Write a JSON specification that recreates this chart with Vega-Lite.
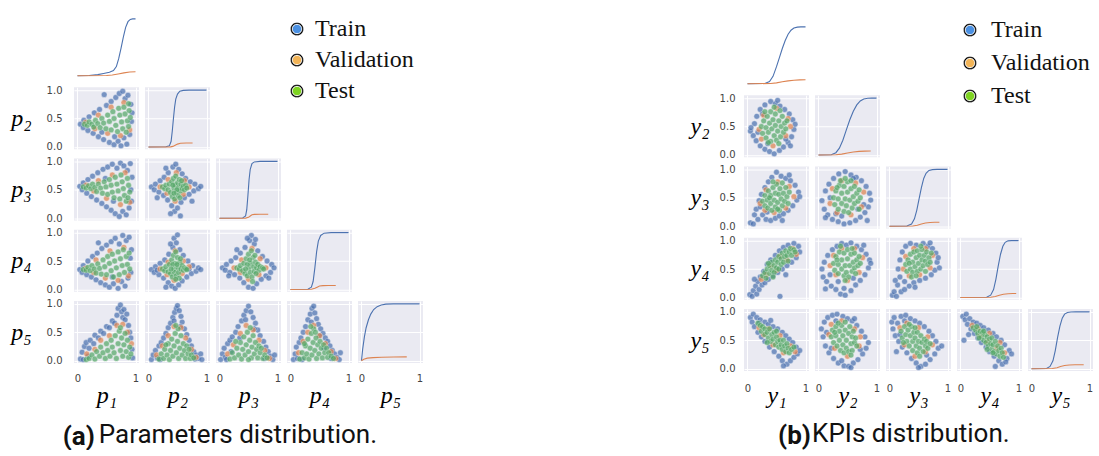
{
"$schema":"https://vega.github.io/schema/vega-lite/v6.json",
"background":"#ffffff",
"padding":{"left":10,"top":13,"right":0,"bottom":0},
"config":{
 "view":{"continuousWidth":65,"continuousHeight":62,"fill":"#eaeaf2","stroke":null},
 "point":{"filled":true,"size":34,"opacity":0.72,"stroke":"#ffffff","strokeWidth":0.4},
 "line":{"strokeWidth":1.1},
 "range":{"category":["#55a868","#4c72b0","#dd8452"]},
 "axis":{"grid":true,"gridColor":"#ffffff","gridWidth":1,"domain":false,"ticks":false,"labelFont":"DejaVu Sans","labelFontSize":10,"labelColor":"#444444","labelPadding":12,"titleFont":"Liberation Serif","titleFontStyle":"italic","titleFontWeight":"normal","titleFontSize":24,"titleColor":"#000000"},
 "axisX":{"tickCount":1,"titlePadding":1},
 "axisY":{"tickCount":3,"titleAngle":0,"titleAlign":"right","titleBaseline":"middle","titlePadding":15}
},
"datasets":{
"P":[
{"p":"A21","s":"Train","x":[0.05,0.1,0.11,0.18,0.2,0.27,0.29,0.36,0.38,0.45,0.46,0.5,0.55,0.58,0.63,0.66,0.7,0.72,0.75,0.78,0.8,0.82,0.85,0.87,0.9,0.92,0.93,0.94,0.42,0.64],"y":[0.4,0.34,0.47,0.29,0.53,0.24,0.6,0.18,0.66,0.13,0.92,0.73,0.08,0.8,0.04,0.87,0.1,0.94,0.02,0.98,0.16,0.85,0.05,0.91,0.22,0.75,0.45,0.6,0.26,0.18]},
{"p":"A21","s":"Validation","x":[0.14,0.3,0.36,0.52,0.58,0.74,0.8,0.9],"y":[0.43,0.32,0.56,0.24,0.7,0.2,0.78,0.3]},
{"p":"A21","s":"Test","x":[0.12,0.17,0.2,0.25,0.28,0.31,0.35,0.39,0.42,0.45,0.49,0.52,0.55,0.58,0.61,0.63,0.66,0.69,0.71,0.73,0.76,0.78,0.8,0.82,0.84,0.86,0.88,0.89,0.91,0.88],"y":[0.4,0.38,0.44,0.4,0.35,0.47,0.41,0.34,0.5,0.42,0.32,0.56,0.45,0.3,0.62,0.5,0.38,0.27,0.68,0.56,0.44,0.32,0.7,0.58,0.26,0.46,0.36,0.64,0.52,0.76]},
{"p":"A31","s":"Train","x":[0.04,0.08,0.1,0.16,0.18,0.24,0.26,0.33,0.35,0.42,0.44,0.5,0.52,0.58,0.6,0.65,0.68,0.72,0.74,0.78,0.8,0.84,0.86,0.89,0.91,0.93,0.94,0.92,0.48,0.62],"y":[0.56,0.5,0.62,0.44,0.68,0.38,0.74,0.32,0.8,0.26,0.86,0.2,0.9,0.14,0.95,0.08,0.88,0.03,0.97,0.12,0.92,0.06,0.84,0.18,0.96,0.3,0.72,0.5,0.7,0.3]},
{"p":"A31","s":"Validation","x":[0.15,0.28,0.36,0.5,0.6,0.74,0.82,0.9],"y":[0.58,0.48,0.66,0.35,0.76,0.24,0.8,0.28]},
{"p":"A31","s":"Test","x":[0.1,0.15,0.19,0.23,0.26,0.3,0.33,0.36,0.4,0.43,0.46,0.49,0.52,0.55,0.58,0.6,0.63,0.65,0.68,0.7,0.73,0.75,0.77,0.79,0.81,0.84,0.86,0.88,0.9,0.87],"y":[0.55,0.53,0.57,0.52,0.6,0.54,0.47,0.6,0.53,0.44,0.64,0.55,0.42,0.68,0.58,0.46,0.36,0.72,0.6,0.48,0.34,0.76,0.64,0.52,0.4,0.3,0.7,0.58,0.46,0.36]},
{"p":"A32","s":"Train","x":[0.05,0.1,0.12,0.18,0.2,0.26,0.27,0.33,0.34,0.4,0.42,0.45,0.47,0.5,0.52,0.56,0.58,0.62,0.64,0.7,0.72,0.78,0.8,0.86,0.9,0.38,0.55,0.3,0.15,0.75],"y":[0.55,0.5,0.6,0.46,0.66,0.4,0.72,0.32,0.8,0.22,0.9,0.12,0.95,0.18,0.86,0.28,0.78,0.36,0.7,0.42,0.64,0.48,0.6,0.52,0.56,0.08,0.04,0.88,0.36,0.3]},
{"p":"A32","s":"Validation","x":[0.2,0.32,0.34,0.46,0.48,0.6,0.62,0.7],"y":[0.55,0.44,0.68,0.3,0.8,0.42,0.66,0.55]},
{"p":"A32","s":"Test","x":[0.24,0.28,0.3,0.34,0.36,0.38,0.4,0.41,0.43,0.44,0.45,0.46,0.47,0.48,0.5,0.51,0.52,0.53,0.55,0.56,0.58,0.6,0.62,0.64,0.66,0.42,0.49,0.54,0.44,0.57],"y":[0.55,0.52,0.58,0.5,0.6,0.45,0.64,0.38,0.7,0.52,0.34,0.58,0.74,0.46,0.62,0.4,0.54,0.68,0.48,0.6,0.52,0.56,0.5,0.58,0.53,0.58,0.5,0.36,0.44,0.66]},
{"p":"A41","s":"Train","x":[0.04,0.08,0.1,0.16,0.18,0.24,0.26,0.32,0.34,0.4,0.42,0.48,0.5,0.55,0.58,0.62,0.65,0.7,0.72,0.76,0.78,0.82,0.84,0.87,0.89,0.92,0.93,0.91,0.36,0.6],"y":[0.35,0.3,0.42,0.26,0.5,0.22,0.58,0.17,0.64,0.12,0.72,0.08,0.78,0.04,0.84,0.1,0.9,0.02,0.8,0.14,0.95,0.06,0.86,0.2,0.92,0.3,0.7,0.55,0.82,0.22]},
{"p":"A41","s":"Validation","x":[0.14,0.28,0.32,0.48,0.56,0.7,0.8,0.88],"y":[0.37,0.3,0.52,0.2,0.68,0.16,0.74,0.24]},
{"p":"A41","s":"Test","x":[0.1,0.15,0.18,0.22,0.25,0.29,0.32,0.35,0.38,0.41,0.44,0.47,0.5,0.52,0.55,0.58,0.6,0.62,0.64,0.67,0.7,0.72,0.74,0.77,0.79,0.81,0.84,0.86,0.89,0.9],"y":[0.35,0.34,0.39,0.33,0.42,0.36,0.29,0.45,0.37,0.27,0.52,0.4,0.26,0.58,0.46,0.33,0.62,0.22,0.5,0.38,0.66,0.26,0.54,0.42,0.7,0.3,0.58,0.44,0.64,0.36]},
{"p":"A42","s":"Train","x":[0.05,0.1,0.12,0.18,0.2,0.26,0.28,0.34,0.35,0.4,0.42,0.44,0.46,0.48,0.52,0.54,0.58,0.6,0.66,0.68,0.74,0.76,0.82,0.86,0.9,0.38,0.5,0.3,0.15,0.7],"y":[0.35,0.3,0.4,0.26,0.46,0.2,0.52,0.12,0.62,0.06,0.74,0.9,0.02,0.82,0.08,0.7,0.15,0.6,0.22,0.5,0.28,0.42,0.32,0.38,0.35,0.8,0.96,0.04,0.34,0.36]},
{"p":"A42","s":"Validation","x":[0.2,0.32,0.34,0.44,0.46,0.58,0.6,0.7],"y":[0.36,0.26,0.48,0.16,0.68,0.28,0.5,0.4]},
{"p":"A42","s":"Test","x":[0.24,0.28,0.3,0.34,0.36,0.38,0.4,0.41,0.43,0.44,0.45,0.46,0.47,0.48,0.5,0.51,0.52,0.54,0.56,0.58,0.6,0.62,0.64,0.42,0.49,0.53,0.39,0.55,0.47,0.66],"y":[0.36,0.33,0.4,0.31,0.44,0.28,0.52,0.22,0.6,0.36,0.3,0.46,0.66,0.24,0.56,0.38,0.3,0.48,0.36,0.42,0.34,0.38,0.36,0.44,0.44,0.2,0.36,0.54,0.18,0.35]},
{"p":"A43","s":"Train","x":[0.05,0.1,0.12,0.18,0.2,0.26,0.28,0.35,0.36,0.42,0.44,0.5,0.52,0.55,0.58,0.6,0.64,0.66,0.72,0.74,0.8,0.82,0.88,0.9,0.94,0.48,0.62,0.3,0.16,0.85],"y":[0.38,0.34,0.44,0.3,0.5,0.26,0.56,0.2,0.64,0.12,0.74,0.04,0.86,0.95,0.02,0.8,0.1,0.68,0.18,0.58,0.24,0.5,0.3,0.44,0.38,0.9,0.88,0.7,0.24,0.2]},
{"p":"A43","s":"Validation","x":[0.25,0.36,0.38,0.5,0.56,0.68,0.7,0.8],"y":[0.38,0.3,0.52,0.18,0.72,0.26,0.54,0.38]},
{"p":"A43","s":"Test","x":[0.3,0.34,0.36,0.4,0.42,0.44,0.46,0.48,0.5,0.51,0.53,0.54,0.55,0.56,0.58,0.59,0.6,0.62,0.64,0.66,0.68,0.7,0.74,0.48,0.57,0.52,0.63,0.45,0.61,0.76],"y":[0.38,0.36,0.42,0.33,0.46,0.28,0.54,0.24,0.62,0.38,0.3,0.46,0.68,0.22,0.56,0.4,0.32,0.48,0.38,0.44,0.34,0.4,0.38,0.44,0.14,0.52,0.28,0.36,0.6,0.36]},
{"p":"A51","s":"Train","x":[0.05,0.08,0.12,0.15,0.2,0.22,0.28,0.3,0.36,0.4,0.45,0.5,0.55,0.6,0.64,0.68,0.7,0.74,0.76,0.78,0.8,0.82,0.85,0.88,0.9,0.92,0.94,0.95,0.1,0.18],"y":[0.03,0.15,0.25,0.32,0.22,0.36,0.3,0.45,0.4,0.52,0.48,0.6,0.58,0.7,0.66,0.8,0.92,0.98,0.86,0.76,0.9,0.72,0.82,0.62,0.5,0.4,0.2,0.05,0.02,0.08]},
{"p":"A51","s":"Validation","x":[0.16,0.3,0.4,0.55,0.68,0.78,0.86,0.93],"y":[0.12,0.2,0.36,0.44,0.62,0.64,0.5,0.3]},
{"p":"A51","s":"Test","x":[0.15,0.2,0.25,0.3,0.33,0.38,0.4,0.44,0.48,0.5,0.52,0.56,0.58,0.6,0.63,0.65,0.67,0.7,0.72,0.74,0.76,0.78,0.8,0.82,0.84,0.86,0.88,0.9,0.92,0.74],"y":[0.02,0.04,0.1,0.03,0.16,0.08,0.24,0.14,0.04,0.3,0.18,0.08,0.36,0.24,0.14,0.44,0.04,0.3,0.52,0.18,0.4,0.08,0.28,0.48,0.16,0.36,0.06,0.24,0.12,0.58]},
{"p":"A52","s":"Train","x":[0.05,0.08,0.12,0.15,0.18,0.22,0.26,0.3,0.34,0.38,0.42,0.45,0.48,0.5,0.53,0.56,0.58,0.62,0.66,0.7,0.74,0.78,0.82,0.86,0.9,0.92,0.44,0.55,0.2,0.8],"y":[0.02,0.1,0.18,0.05,0.26,0.32,0.4,0.48,0.58,0.66,0.76,0.85,0.92,0.97,0.88,0.78,0.68,0.56,0.46,0.36,0.26,0.16,0.1,0.04,0.12,0.02,0.7,0.6,0.02,0.03]},
{"p":"A52","s":"Validation","x":[0.14,0.24,0.34,0.44,0.56,0.64,0.74,0.82],"y":[0.1,0.26,0.44,0.6,0.58,0.4,0.2,0.06]},
{"p":"A52","s":"Test","x":[0.18,0.22,0.26,0.28,0.32,0.34,0.36,0.38,0.4,0.42,0.44,0.46,0.48,0.5,0.51,0.52,0.54,0.56,0.58,0.6,0.62,0.64,0.66,0.68,0.7,0.72,0.74,0.47,0.3,0.78],"y":[0.03,0.12,0.04,0.2,0.1,0.3,0.02,0.18,0.38,0.08,0.26,0.48,0.14,0.34,0.56,0.04,0.22,0.44,0.1,0.3,0.18,0.04,0.26,0.12,0.2,0.04,0.1,0.62,0.28,0.05]},
{"p":"A53","s":"Train","x":[0.02,0.05,0.08,0.1,0.14,0.18,0.22,0.28,0.32,0.38,0.42,0.46,0.5,0.54,0.58,0.62,0.66,0.7,0.76,0.8,0.84,0.88,0.92,0.95,0.12,0.45,0.6,0.2,0.78,0.35],"y":[0.02,0.12,0.22,0.06,0.3,0.36,0.42,0.5,0.6,0.7,0.8,0.88,0.96,0.86,0.76,0.66,0.54,0.44,0.34,0.24,0.16,0.08,0.02,0.1,0.02,0.72,0.56,0.16,0.04,0.4]},
{"p":"A53","s":"Validation","x":[0.14,0.24,0.36,0.46,0.58,0.68,0.78,0.86],"y":[0.12,0.28,0.48,0.62,0.54,0.36,0.18,0.04]},
{"p":"A53","s":"Test","x":[0.18,0.22,0.26,0.3,0.33,0.36,0.38,0.4,0.42,0.44,0.46,0.48,0.5,0.52,0.53,0.55,0.56,0.58,0.6,0.62,0.64,0.66,0.68,0.7,0.72,0.75,0.78,0.28,0.5,0.82],"y":[0.03,0.14,0.05,0.22,0.1,0.32,0.03,0.2,0.42,0.1,0.28,0.5,0.16,0.36,0.58,0.05,0.24,0.44,0.12,0.32,0.2,0.05,0.26,0.14,0.22,0.04,0.1,0.34,0.02,0.05]},
{"p":"A54","s":"Train","x":[0.05,0.08,0.1,0.12,0.15,0.18,0.22,0.26,0.3,0.34,0.37,0.4,0.42,0.45,0.48,0.52,0.56,0.6,0.64,0.68,0.72,0.76,0.8,0.84,0.86,0.2,0.36,0.5,0.7,0.58],"y":[0.02,0.12,0.24,0.04,0.32,0.4,0.5,0.6,0.72,0.82,0.92,0.96,0.84,0.74,0.64,0.56,0.48,0.4,0.34,0.26,0.18,0.12,0.06,0.02,0.14,0.02,0.68,0.44,0.04,0.22]},
{"p":"A54","s":"Validation","x":[0.14,0.22,0.3,0.4,0.5,0.6,0.7,0.78],"y":[0.14,0.34,0.5,0.62,0.44,0.3,0.16,0.04]},
{"p":"A54","s":"Test","x":[0.16,0.2,0.24,0.26,0.28,0.3,0.32,0.34,0.36,0.37,0.39,0.4,0.42,0.44,0.45,0.47,0.49,0.51,0.53,0.55,0.57,0.59,0.62,0.64,0.66,0.7,0.35,0.43,0.24,0.74],"y":[0.03,0.14,0.05,0.26,0.12,0.38,0.03,0.22,0.48,0.1,0.32,0.56,0.18,0.4,0.04,0.28,0.12,0.34,0.22,0.05,0.28,0.14,0.22,0.06,0.14,0.08,0.6,0.5,0.3,0.04]},
{"p":"B21","s":"Train","x":[0.05,0.1,0.12,0.15,0.16,0.22,0.22,0.3,0.3,0.38,0.4,0.46,0.48,0.55,0.56,0.62,0.64,0.7,0.72,0.76,0.78,0.8,0.82,0.06,0.18,0.26,0.66,0.52,0.35,0.74],"y":[0.42,0.34,0.55,0.25,0.68,0.16,0.8,0.1,0.88,0.06,0.94,0.02,0.9,0.08,0.86,0.14,0.8,0.22,0.72,0.32,0.62,0.45,0.54,0.48,0.4,0.72,0.28,0.96,0.2,0.16]},
{"p":"B21","s":"Validation","x":[0.2,0.24,0.28,0.44,0.5,0.66,0.7,0.74],"y":[0.45,0.28,0.7,0.16,0.82,0.34,0.64,0.5]},
{"p":"B21","s":"Test","x":[0.24,0.26,0.28,0.32,0.32,0.34,0.36,0.38,0.4,0.4,0.42,0.44,0.46,0.48,0.48,0.5,0.52,0.54,0.56,0.57,0.58,0.6,0.62,0.64,0.66,0.68,0.46,0.36,0.3,0.54],"y":[0.5,0.38,0.6,0.3,0.48,0.68,0.4,0.56,0.24,0.76,0.46,0.62,0.34,0.52,0.72,0.26,0.42,0.6,0.78,0.32,0.5,0.68,0.4,0.56,0.46,0.6,0.84,0.22,0.76,0.2]},
{"p":"B31","s":"Train","x":[0.05,0.1,0.12,0.15,0.18,0.2,0.24,0.26,0.3,0.32,0.36,0.4,0.42,0.48,0.5,0.55,0.58,0.62,0.66,0.7,0.74,0.78,0.82,0.85,0.88,0.9,0.22,0.6,0.72,0.34],"y":[0.06,0.04,0.2,0.3,0.12,0.45,0.56,0.2,0.68,0.12,0.78,0.1,0.86,0.14,0.95,0.18,0.88,0.22,0.84,0.28,0.8,0.36,0.72,0.46,0.6,0.52,0.34,0.1,0.9,0.25]},
{"p":"B31","s":"Validation","x":[0.22,0.3,0.32,0.46,0.52,0.66,0.72,0.8],"y":[0.4,0.28,0.64,0.24,0.78,0.32,0.7,0.52]},
{"p":"B31","s":"Test","x":[0.26,0.3,0.3,0.34,0.35,0.36,0.4,0.4,0.42,0.44,0.46,0.48,0.48,0.5,0.52,0.54,0.55,0.56,0.58,0.6,0.6,0.62,0.64,0.66,0.68,0.7,0.72,0.38,0.52,0.44],"y":[0.44,0.36,0.54,0.46,0.32,0.62,0.4,0.54,0.28,0.68,0.46,0.34,0.58,0.74,0.42,0.56,0.28,0.66,0.48,0.36,0.76,0.58,0.44,0.68,0.52,0.4,0.6,0.5,0.3,0.78]},
{"p":"B32","s":"Train","x":[0.06,0.1,0.12,0.16,0.18,0.24,0.26,0.34,0.35,0.44,0.46,0.54,0.56,0.64,0.65,0.72,0.74,0.8,0.82,0.86,0.88,0.9,0.12,0.78,0.3,0.68,0.2,0.84,0.4,0.6],"y":[0.45,0.3,0.62,0.2,0.74,0.12,0.84,0.08,0.92,0.04,0.96,0.06,0.9,0.1,0.86,0.16,0.8,0.24,0.7,0.34,0.58,0.46,0.15,0.38,0.22,0.3,0.5,0.1,0.18,0.84]},
{"p":"B32","s":"Validation","x":[0.2,0.24,0.32,0.4,0.56,0.64,0.74,0.78],"y":[0.4,0.66,0.24,0.8,0.2,0.76,0.34,0.6]},
{"p":"B32","s":"Test","x":[0.26,0.28,0.3,0.34,0.34,0.36,0.4,0.4,0.44,0.44,0.46,0.48,0.5,0.5,0.52,0.54,0.56,0.58,0.6,0.62,0.62,0.66,0.68,0.7,0.7,0.72,0.38,0.46,0.56,0.32],"y":[0.5,0.38,0.62,0.3,0.48,0.72,0.4,0.58,0.26,0.7,0.48,0.36,0.6,0.78,0.24,0.46,0.66,0.32,0.52,0.4,0.7,0.58,0.44,0.3,0.64,0.5,0.8,0.84,0.8,0.68]},
{"p":"B41","s":"Train","x":[0.04,0.08,0.1,0.14,0.16,0.18,0.2,0.22,0.25,0.28,0.3,0.34,0.36,0.4,0.44,0.48,0.52,0.55,0.6,0.62,0.68,0.7,0.76,0.8,0.84,0.88,0.9,0.56,0.12,0.66],"y":[0.05,0.02,0.12,0.2,0.06,0.28,0.14,0.36,0.22,0.46,0.26,0.58,0.32,0.66,0.38,0.74,0.44,0.82,0.5,0.88,0.56,0.92,0.62,0.95,0.7,0.9,0.8,0.02,0.32,0.4]},
{"p":"B41","s":"Validation","x":[0.24,0.32,0.4,0.5,0.56,0.68,0.78,0.84],"y":[0.32,0.4,0.56,0.48,0.72,0.66,0.86,0.76]},
{"p":"B41","s":"Test","x":[0.26,0.3,0.32,0.34,0.38,0.38,0.42,0.42,0.46,0.46,0.48,0.5,0.52,0.54,0.54,0.58,0.58,0.6,0.62,0.64,0.66,0.68,0.7,0.72,0.74,0.76,0.8,0.82,0.44,0.36],"y":[0.38,0.44,0.34,0.5,0.42,0.56,0.48,0.62,0.44,0.56,0.66,0.52,0.62,0.5,0.72,0.58,0.68,0.78,0.62,0.72,0.82,0.74,0.64,0.8,0.86,0.74,0.84,0.8,0.36,0.6]},
{"p":"B42","s":"Train","x":[0.06,0.08,0.1,0.14,0.16,0.22,0.24,0.3,0.32,0.38,0.4,0.46,0.48,0.56,0.56,0.64,0.66,0.72,0.74,0.8,0.82,0.86,0.88,0.9,0.2,0.34,0.6,0.78,0.44,0.12],"y":[0.5,0.36,0.62,0.28,0.74,0.2,0.84,0.14,0.9,0.06,0.95,0.04,0.92,0.12,0.96,0.22,0.9,0.3,0.84,0.4,0.76,0.52,0.66,0.6,0.4,0.28,0.34,0.92,0.16,0.15]},
{"p":"B42","s":"Validation","x":[0.2,0.26,0.3,0.4,0.5,0.62,0.7,0.76],"y":[0.56,0.74,0.4,0.86,0.3,0.86,0.44,0.7]},
{"p":"B42","s":"Test","x":[0.26,0.28,0.3,0.34,0.34,0.36,0.4,0.4,0.44,0.44,0.46,0.48,0.5,0.5,0.52,0.54,0.56,0.58,0.6,0.62,0.62,0.66,0.68,0.7,0.72,0.58,0.38,0.46,0.64,0.32],"y":[0.6,0.48,0.72,0.42,0.58,0.8,0.5,0.66,0.38,0.78,0.56,0.44,0.68,0.84,0.36,0.56,0.76,0.46,0.62,0.52,0.78,0.66,0.56,0.72,0.6,0.86,0.9,0.3,0.42,0.66]},
{"p":"B43","s":"Train","x":[0.05,0.08,0.12,0.14,0.15,0.18,0.18,0.2,0.22,0.26,0.28,0.34,0.36,0.42,0.46,0.52,0.58,0.62,0.66,0.72,0.74,0.78,0.8,0.82,0.86,0.84,0.1,0.26,0.44,0.7],"y":[0.04,0.1,0.02,0.22,0.5,0.36,0.66,0.1,0.8,0.28,0.9,0.2,0.95,0.26,0.92,0.3,0.95,0.34,0.9,0.4,0.86,0.48,0.78,0.62,0.52,0.7,0.3,0.14,0.18,0.96]},
{"p":"B43","s":"Validation","x":[0.24,0.28,0.34,0.42,0.52,0.62,0.7,0.74],"y":[0.5,0.72,0.38,0.86,0.4,0.86,0.52,0.74]},
{"p":"B43","s":"Test","x":[0.28,0.3,0.32,0.36,0.36,0.4,0.4,0.42,0.44,0.46,0.48,0.48,0.5,0.52,0.54,0.56,0.56,0.58,0.6,0.62,0.62,0.64,0.66,0.68,0.7,0.38,0.46,0.54,0.72,0.34],"y":[0.58,0.46,0.66,0.5,0.76,0.44,0.62,0.8,0.54,0.7,0.46,0.82,0.6,0.74,0.5,0.66,0.84,0.56,0.74,0.46,0.64,0.8,0.58,0.7,0.62,0.36,0.38,0.9,0.78,0.6]},
{"p":"B51","s":"Train","x":[0.05,0.08,0.1,0.12,0.16,0.18,0.22,0.24,0.3,0.3,0.36,0.38,0.44,0.46,0.52,0.54,0.6,0.6,0.66,0.68,0.72,0.74,0.78,0.8,0.84,0.86,0.9,0.62,0.2,0.4],"y":[0.9,0.82,0.96,0.74,0.9,0.64,0.86,0.56,0.82,0.48,0.78,0.38,0.74,0.3,0.7,0.22,0.64,0.14,0.58,0.08,0.52,0.14,0.46,0.2,0.38,0.26,0.32,0.05,0.8,0.85]},
{"p":"B51","s":"Validation","x":[0.2,0.28,0.36,0.44,0.56,0.62,0.74,0.82],"y":[0.72,0.6,0.7,0.42,0.58,0.28,0.4,0.3]},
{"p":"B51","s":"Test","x":[0.18,0.22,0.24,0.26,0.3,0.3,0.34,0.36,0.38,0.4,0.42,0.44,0.46,0.48,0.5,0.52,0.54,0.56,0.58,0.6,0.62,0.64,0.66,0.68,0.7,0.72,0.76,0.8,0.34,0.5],"y":[0.8,0.76,0.66,0.74,0.7,0.6,0.64,0.54,0.7,0.48,0.6,0.52,0.64,0.42,0.56,0.48,0.38,0.5,0.42,0.34,0.5,0.4,0.3,0.44,0.36,0.28,0.34,0.38,0.46,0.66]},
{"p":"B52","s":"Train","x":[0.05,0.08,0.1,0.12,0.16,0.18,0.24,0.26,0.32,0.34,0.42,0.44,0.5,0.52,0.58,0.6,0.66,0.68,0.74,0.76,0.8,0.82,0.86,0.14,0.4,0.62,0.22,0.72,0.56,0.3],"y":[0.7,0.56,0.82,0.4,0.9,0.28,0.94,0.18,0.96,0.1,0.92,0.05,0.88,0.04,0.84,0.1,0.76,0.16,0.66,0.26,0.56,0.36,0.46,0.64,0.14,0.88,0.36,0.34,0.02,0.84]},
{"p":"B52","s":"Validation","x":[0.18,0.22,0.28,0.4,0.5,0.62,0.7,0.72],"y":[0.6,0.78,0.36,0.84,0.22,0.7,0.4,0.56]},
{"p":"B52","s":"Test","x":[0.22,0.24,0.26,0.3,0.3,0.32,0.36,0.36,0.38,0.4,0.42,0.42,0.44,0.46,0.48,0.48,0.52,0.52,0.54,0.56,0.58,0.58,0.6,0.62,0.64,0.66,0.34,0.46,0.28,0.56],"y":[0.56,0.68,0.46,0.74,0.58,0.4,0.66,0.5,0.32,0.76,0.58,0.42,0.28,0.68,0.5,0.36,0.62,0.3,0.74,0.44,0.56,0.32,0.66,0.46,0.54,0.4,0.8,0.82,0.64,0.24]},
{"p":"B53","s":"Train","x":[0.04,0.06,0.08,0.1,0.14,0.16,0.2,0.22,0.28,0.3,0.36,0.38,0.44,0.46,0.52,0.54,0.6,0.62,0.68,0.7,0.74,0.78,0.8,0.84,0.9,0.12,0.5,0.26,0.64,0.18],"y":[0.82,0.7,0.9,0.58,0.8,0.48,0.92,0.38,0.94,0.28,0.88,0.18,0.84,0.1,0.8,0.04,0.74,0.08,0.66,0.16,0.58,0.26,0.48,0.36,0.4,0.3,0.02,0.84,0.24,0.6]},
{"p":"B53","s":"Validation","x":[0.18,0.26,0.3,0.44,0.5,0.62,0.66,0.74],"y":[0.72,0.42,0.8,0.22,0.72,0.3,0.56,0.42]},
{"p":"B53","s":"Test","x":[0.2,0.22,0.26,0.28,0.3,0.32,0.34,0.36,0.38,0.4,0.4,0.42,0.44,0.46,0.48,0.48,0.5,0.52,0.54,0.56,0.58,0.6,0.62,0.64,0.66,0.7,0.34,0.44,0.52,0.24],"y":[0.66,0.54,0.74,0.6,0.48,0.68,0.4,0.58,0.74,0.48,0.32,0.64,0.54,0.4,0.28,0.64,0.48,0.36,0.58,0.46,0.3,0.52,0.4,0.48,0.36,0.44,0.78,0.72,0.22,0.46]},
{"p":"B54","s":"Train","x":[0.04,0.06,0.08,0.1,0.12,0.16,0.18,0.22,0.24,0.28,0.3,0.34,0.36,0.4,0.44,0.48,0.5,0.56,0.58,0.62,0.66,0.7,0.72,0.76,0.8,0.84,0.88,0.6,0.14,0.78],"y":[0.92,0.5,0.86,0.96,0.78,0.88,0.7,0.82,0.62,0.8,0.54,0.76,0.46,0.72,0.38,0.68,0.3,0.62,0.22,0.56,0.14,0.5,0.08,0.42,0.18,0.32,0.26,0.04,0.6,0.12]},
{"p":"B54","s":"Validation","x":[0.2,0.3,0.34,0.46,0.5,0.62,0.68,0.76],"y":[0.76,0.7,0.58,0.48,0.62,0.36,0.46,0.28]},
{"p":"B54","s":"Test","x":[0.22,0.26,0.28,0.3,0.34,0.36,0.38,0.4,0.42,0.44,0.46,0.48,0.5,0.52,0.54,0.54,0.56,0.58,0.6,0.62,0.64,0.66,0.68,0.7,0.72,0.74,0.4,0.46,0.56,0.32],"y":[0.72,0.68,0.74,0.62,0.66,0.56,0.64,0.5,0.6,0.46,0.56,0.4,0.52,0.44,0.34,0.54,0.42,0.3,0.48,0.26,0.4,0.32,0.22,0.36,0.28,0.2,0.66,0.34,0.28,0.54]}
],
"C":[
{"p":"A1","s":"Train","x":[0,0.2,0.35,0.45,0.55,0.62,0.67,0.71,0.75,0.79,0.83,0.87,0.91,0.95,1],"y":[0,0.005,0.02,0.04,0.06,0.09,0.16,0.3,0.48,0.68,0.85,0.95,0.99,1,1]},
{"p":"A1","s":"Validation","x":[0,0.5,0.6,0.7,0.8,0.9,1],"y":[0,0.004,0.012,0.03,0.05,0.065,0.07]},
{"p":"A2","s":"Train","x":[0,0.3,0.36,0.39,0.41,0.43,0.45,0.47,0.5,0.54,0.6,0.7,1],"y":[0,0.003,0.02,0.1,0.28,0.5,0.7,0.84,0.93,0.98,0.995,1,1]},
{"p":"A2","s":"Validation","x":[0,0.38,0.42,0.46,0.5,0.55,0.65,0.76],"y":[0,0.002,0.01,0.03,0.05,0.065,0.07,0.07]},
{"p":"A3","s":"Train","x":[0,0.4,0.45,0.47,0.49,0.51,0.53,0.56,0.6,0.7,1],"y":[0,0.005,0.04,0.15,0.4,0.68,0.86,0.96,0.99,1,1]},
{"p":"A3","s":"Validation","x":[0,0.45,0.5,0.53,0.56,0.6,0.7,0.84],"y":[0,0.002,0.015,0.04,0.06,0.068,0.07,0.07]},
{"p":"A4","s":"Train","x":[0,0.3,0.36,0.39,0.42,0.45,0.48,0.52,0.58,0.7,1],"y":[0,0.005,0.04,0.14,0.38,0.66,0.85,0.95,0.99,1,1]},
{"p":"A4","s":"Validation","x":[0,0.36,0.42,0.46,0.5,0.56,0.65,0.78],"y":[0,0.003,0.02,0.04,0.06,0.068,0.07,0.07]},
{"p":"A5","s":"Train","x":[0,0.02,0.05,0.08,0.12,0.16,0.21,0.27,0.34,0.42,0.55,1],"y":[0,0.2,0.42,0.58,0.72,0.82,0.9,0.95,0.98,0.995,1,1]},
{"p":"A5","s":"Validation","x":[0,0.04,0.1,0.2,0.35,0.55,0.78],"y":[0,0.025,0.045,0.055,0.06,0.065,0.068]},
{"p":"B1","s":"Train","x":[0,0.3,0.38,0.44,0.5,0.55,0.6,0.65,0.7,0.75,0.8,0.86,0.92,1],"y":[0,0.005,0.04,0.13,0.3,0.46,0.62,0.76,0.87,0.94,0.98,0.995,1,1]},
{"p":"B1","s":"Validation","x":[0,0.4,0.5,0.6,0.7,0.8,0.9,1],"y":[0,0.004,0.015,0.035,0.05,0.062,0.068,0.07]},
{"p":"B2","s":"Train","x":[0,0.22,0.3,0.36,0.42,0.48,0.54,0.6,0.66,0.72,0.78,0.85,0.92,1],"y":[0,0.005,0.04,0.12,0.26,0.44,0.62,0.77,0.88,0.95,0.985,0.997,1,1]},
{"p":"B2","s":"Validation","x":[0,0.3,0.4,0.5,0.6,0.7,0.8,0.9],"y":[0,0.004,0.015,0.035,0.052,0.063,0.068,0.07]},
{"p":"B3","s":"Train","x":[0,0.3,0.38,0.43,0.47,0.51,0.55,0.59,0.63,0.68,0.74,0.82,1],"y":[0,0.005,0.04,0.13,0.28,0.48,0.68,0.84,0.93,0.98,0.995,1,1]},
{"p":"B3","s":"Validation","x":[0,0.4,0.48,0.55,0.62,0.7,0.78,0.86],"y":[0,0.004,0.018,0.04,0.056,0.065,0.07,0.07]},
{"p":"B4","s":"Train","x":[0,0.45,0.52,0.57,0.61,0.65,0.69,0.73,0.77,0.82,0.88,1],"y":[0,0.005,0.04,0.14,0.32,0.55,0.76,0.9,0.97,0.995,1,1]},
{"p":"B4","s":"Validation","x":[0,0.52,0.6,0.67,0.74,0.82,0.9,0.96],"y":[0,0.004,0.018,0.04,0.056,0.065,0.07,0.07]},
{"p":"B5","s":"Train","x":[0,0.26,0.32,0.37,0.41,0.45,0.49,0.53,0.57,0.62,0.68,0.76,1],"y":[0,0.005,0.04,0.14,0.32,0.55,0.75,0.89,0.96,0.99,0.998,1,1]},
{"p":"B5","s":"Validation","x":[0,0.36,0.44,0.5,0.57,0.65,0.75,0.9],"y":[0,0.004,0.018,0.04,0.056,0.065,0.07,0.07]}
]
},
"hconcat":[
{"vconcat":[
 {"layer":[
  {"data":{"name":"C"},"transform":[{"filter":"datum.p=='A1'"},{"flatten":["x","y"]}],"mark":"line","encoding":{"x":{"field":"x","type":"quantitative","scale":{"domain":[-0.06,1.06],"nice":false,"zero":false},"axis":{"labels":false,"title":null}},"y":{"field":"y","type":"quantitative","scale":{"domain":[-0.04,1.05],"nice":false,"zero":false},"axis":{"title":"p₁","labelColor":"transparent","titleColor":"transparent"}},"stroke":{"field":"s","type":"nominal","scale":{"domain":["Train","Validation"],"range":["#4c72b0","#dd8452"]},"legend":null}}},
  {"data":{"name":"C"},"transform":[{"filter":"datum.p=='none'"}],"mark":{"type":"point","filled":true,"strokeWidth":0,"size":85,"opacity":1},"encoding":{
   "color":{"field":"s","type":"nominal","scale":{"domain":["Train","Validation","Test"],"range":["#4a90e2","#f2b457","#7ed321"]},"legend":{"title":null,"orient":"none","legendX":211,"legendY":1,"symbolType":"circle","symbolSize":85,"symbolStrokeWidth":0,"symbolOpacity":1,"labelFont":"Liberation Serif","labelFontSize":24,"labelColor":"#111111","labelOffset":6,"rowPadding":7,"padding":0,"zindex":1}},
   "shape":{"field":"t","type":"nominal","scale":{"domain":["r1","r2","r3"],"range":["M-1.42,0A1.42,1.42,0,1,1,1.42,0A1.42,1.42,0,1,1,-1.42,0ZM-1.08,0A1.08,1.08,0,1,0,1.08,0A1.08,1.08,0,1,0,-1.08,0Z","M-1.42,0A1.42,1.42,0,1,1,1.42,0A1.42,1.42,0,1,1,-1.42,0ZM-1.08,0A1.08,1.08,0,1,0,1.08,0A1.08,1.08,0,1,0,-1.08,0Z","M-1.42,0A1.42,1.42,0,1,1,1.42,0A1.42,1.42,0,1,1,-1.42,0ZM-1.08,0A1.08,1.08,0,1,0,1.08,0A1.08,1.08,0,1,0,-1.08,0Z"]},"legend":{"title":null,"orient":"none","legendX":211,"legendY":1,"symbolSize":85,"symbolFillColor":"#000000","symbolStrokeWidth":0,"symbolOpacity":1,"labelFont":"Liberation Serif","labelFontSize":24,"labelColor":"#111111","labelExpr":"'\u00a0'","labelOffset":6,"rowPadding":7,"padding":0,"zindex":2}}
  }}
 ]},
 {"hconcat":[
  {"data":{"name":"P"},"transform":[{"filter":"datum.p=='A21'"},{"flatten":["x","y"]}],"mark":"point","encoding":{"x":{"field":"x","type":"quantitative","scale":{"domain":[-0.06,1.06],"nice":false,"zero":false},"axis":{"labels":false,"title":null}},"y":{"field":"y","type":"quantitative","scale":{"domain":[-0.04,1.05],"nice":false,"zero":false},"axis":{"title":"p₂"}},"fill":{"field":"s","type":"nominal","legend":null}}},
  {"data":{"name":"C"},"transform":[{"filter":"datum.p=='A2'"},{"flatten":["x","y"]}],"mark":"line","encoding":{"x":{"field":"x","type":"quantitative","scale":{"domain":[-0.06,1.06],"nice":false,"zero":false},"axis":{"labels":false,"title":null}},"y":{"field":"y","type":"quantitative","scale":{"domain":[-0.04,1.05],"nice":false,"zero":false},"axis":{"labels":false,"title":null}},"stroke":{"field":"s","type":"nominal","scale":{"domain":["Train","Validation"],"range":["#4c72b0","#dd8452"]},"legend":null}}}
 ],"spacing":6},
 {"hconcat":[
  {"data":{"name":"P"},"transform":[{"filter":"datum.p=='A31'"},{"flatten":["x","y"]}],"mark":"point","encoding":{"x":{"field":"x","type":"quantitative","scale":{"domain":[-0.06,1.06],"nice":false,"zero":false},"axis":{"labels":false,"title":null}},"y":{"field":"y","type":"quantitative","scale":{"domain":[-0.04,1.05],"nice":false,"zero":false},"axis":{"title":"p₃"}},"fill":{"field":"s","type":"nominal","legend":null}}},
  {"data":{"name":"P"},"transform":[{"filter":"datum.p=='A32'"},{"flatten":["x","y"]}],"mark":"point","encoding":{"x":{"field":"x","type":"quantitative","scale":{"domain":[-0.06,1.06],"nice":false,"zero":false},"axis":{"labels":false,"title":null}},"y":{"field":"y","type":"quantitative","scale":{"domain":[-0.04,1.05],"nice":false,"zero":false},"axis":{"labels":false,"title":null}},"fill":{"field":"s","type":"nominal","legend":null}}},
  {"data":{"name":"C"},"transform":[{"filter":"datum.p=='A3'"},{"flatten":["x","y"]}],"mark":"line","encoding":{"x":{"field":"x","type":"quantitative","scale":{"domain":[-0.06,1.06],"nice":false,"zero":false},"axis":{"labels":false,"title":null}},"y":{"field":"y","type":"quantitative","scale":{"domain":[-0.04,1.05],"nice":false,"zero":false},"axis":{"labels":false,"title":null}},"stroke":{"field":"s","type":"nominal","scale":{"domain":["Train","Validation"],"range":["#4c72b0","#dd8452"]},"legend":null}}}
 ],"spacing":6},
 {"hconcat":[
  {"data":{"name":"P"},"transform":[{"filter":"datum.p=='A41'"},{"flatten":["x","y"]}],"mark":"point","encoding":{"x":{"field":"x","type":"quantitative","scale":{"domain":[-0.06,1.06],"nice":false,"zero":false},"axis":{"labels":false,"title":null}},"y":{"field":"y","type":"quantitative","scale":{"domain":[-0.04,1.05],"nice":false,"zero":false},"axis":{"title":"p₄"}},"fill":{"field":"s","type":"nominal","legend":null}}},
  {"data":{"name":"P"},"transform":[{"filter":"datum.p=='A42'"},{"flatten":["x","y"]}],"mark":"point","encoding":{"x":{"field":"x","type":"quantitative","scale":{"domain":[-0.06,1.06],"nice":false,"zero":false},"axis":{"labels":false,"title":null}},"y":{"field":"y","type":"quantitative","scale":{"domain":[-0.04,1.05],"nice":false,"zero":false},"axis":{"labels":false,"title":null}},"fill":{"field":"s","type":"nominal","legend":null}}},
  {"data":{"name":"P"},"transform":[{"filter":"datum.p=='A43'"},{"flatten":["x","y"]}],"mark":"point","encoding":{"x":{"field":"x","type":"quantitative","scale":{"domain":[-0.06,1.06],"nice":false,"zero":false},"axis":{"labels":false,"title":null}},"y":{"field":"y","type":"quantitative","scale":{"domain":[-0.04,1.05],"nice":false,"zero":false},"axis":{"labels":false,"title":null}},"fill":{"field":"s","type":"nominal","legend":null}}},
  {"data":{"name":"C"},"transform":[{"filter":"datum.p=='A4'"},{"flatten":["x","y"]}],"mark":"line","encoding":{"x":{"field":"x","type":"quantitative","scale":{"domain":[-0.06,1.06],"nice":false,"zero":false},"axis":{"labels":false,"title":null}},"y":{"field":"y","type":"quantitative","scale":{"domain":[-0.04,1.05],"nice":false,"zero":false},"axis":{"labels":false,"title":null}},"stroke":{"field":"s","type":"nominal","scale":{"domain":["Train","Validation"],"range":["#4c72b0","#dd8452"]},"legend":null}}}
 ],"spacing":6},
 {"hconcat":[
  {"data":{"name":"P"},"transform":[{"filter":"datum.p=='A51'"},{"flatten":["x","y"]}],"mark":"point","encoding":{"x":{"field":"x","type":"quantitative","scale":{"domain":[-0.06,1.06],"nice":false,"zero":false},"axis":{"title":"p₁","labelPadding":10,"titlePadding":0}},"y":{"field":"y","type":"quantitative","scale":{"domain":[-0.04,1.05],"nice":false,"zero":false},"axis":{"title":"p₅"}},"fill":{"field":"s","type":"nominal","legend":null}}},
  {"data":{"name":"P"},"transform":[{"filter":"datum.p=='A52'"},{"flatten":["x","y"]}],"mark":"point","encoding":{"x":{"field":"x","type":"quantitative","scale":{"domain":[-0.06,1.06],"nice":false,"zero":false},"axis":{"title":"p₂","labelPadding":10,"titlePadding":0}},"y":{"field":"y","type":"quantitative","scale":{"domain":[-0.04,1.05],"nice":false,"zero":false},"axis":{"labels":false,"title":null}},"fill":{"field":"s","type":"nominal","legend":null}}},
  {"data":{"name":"P"},"transform":[{"filter":"datum.p=='A53'"},{"flatten":["x","y"]}],"mark":"point","encoding":{"x":{"field":"x","type":"quantitative","scale":{"domain":[-0.06,1.06],"nice":false,"zero":false},"axis":{"title":"p₃","labelPadding":10,"titlePadding":0}},"y":{"field":"y","type":"quantitative","scale":{"domain":[-0.04,1.05],"nice":false,"zero":false},"axis":{"labels":false,"title":null}},"fill":{"field":"s","type":"nominal","legend":null}}},
  {"data":{"name":"P"},"transform":[{"filter":"datum.p=='A54'"},{"flatten":["x","y"]}],"mark":"point","encoding":{"x":{"field":"x","type":"quantitative","scale":{"domain":[-0.06,1.06],"nice":false,"zero":false},"axis":{"title":"p₄","labelPadding":10,"titlePadding":0}},"y":{"field":"y","type":"quantitative","scale":{"domain":[-0.04,1.05],"nice":false,"zero":false},"axis":{"labels":false,"title":null}},"fill":{"field":"s","type":"nominal","legend":null}}},
  {"data":{"name":"C"},"transform":[{"filter":"datum.p=='A5'"},{"flatten":["x","y"]}],"mark":"line","encoding":{"x":{"field":"x","type":"quantitative","scale":{"domain":[-0.06,1.06],"nice":false,"zero":false},"axis":{"title":"p₅","labelPadding":10,"titlePadding":0}},"y":{"field":"y","type":"quantitative","scale":{"domain":[-0.04,1.05],"nice":false,"zero":false},"axis":{"labels":false,"title":null}},"stroke":{"field":"s","type":"nominal","scale":{"domain":["Train","Validation"],"range":["#4c72b0","#dd8452"]},"legend":null}}}
 ],"spacing":6,
 "title":{"text":"(a)","orient":"bottom","anchor":"start","dx":52,"offset":17,"font":"Roboto","fontSize":26,"fontWeight":"bold","color":"#111111"}}
],
"spacing":3.25,
"title":{"text":"Parameters distribution.","orient":"bottom","anchor":"start","dx":88,"dy":-28,"offset":0,"font":"Roboto","fontSize":26,"fontWeight":"normal","color":"#111111"}
},
{"vconcat":[
 {"width":1,"height":1,"data":{"values":[]},"mark":"text","encoding":{},"view":{"fill":null,"stroke":null}},
 {"vconcat":[
  {"layer":[
   {"data":{"name":"C"},"transform":[{"filter":"datum.p=='B1'"},{"flatten":["x","y"]}],"mark":"line","encoding":{"x":{"field":"x","type":"quantitative","scale":{"domain":[-0.06,1.06],"nice":false,"zero":false},"axis":{"labels":false,"title":null}},"y":{"field":"y","type":"quantitative","scale":{"domain":[-0.04,1.05],"nice":false,"zero":false},"axis":{"title":"y₁","labelColor":"transparent","titleColor":"transparent","labelPadding":9,"titlePadding":10}},"stroke":{"field":"s","type":"nominal","scale":{"domain":["Train","Validation"],"range":["#4c72b0","#dd8452"]},"legend":null}}},
   {"data":{"name":"C"},"transform":[{"filter":"datum.p=='none'"}],"mark":{"type":"point","filled":true,"strokeWidth":0,"size":85,"opacity":1},"encoding":{
    "color":{"field":"s","type":"nominal","scale":{"domain":["Train","Validation","Test"],"range":["#4a90e2","#f2b457","#7ed321"]},"legend":{"title":null,"orient":"none","legendX":214,"legendY":2,"symbolType":"circle","symbolSize":85,"symbolStrokeWidth":0,"symbolOpacity":1,"labelFont":"Liberation Serif","labelFontSize":24,"labelColor":"#111111","labelOffset":9,"rowPadding":9,"padding":0,"zindex":1}},
    "shape":{"field":"t","type":"nominal","scale":{"domain":["r1","r2","r3"],"range":["M-1.42,0A1.42,1.42,0,1,1,1.42,0A1.42,1.42,0,1,1,-1.42,0ZM-1.08,0A1.08,1.08,0,1,0,1.08,0A1.08,1.08,0,1,0,-1.08,0Z","M-1.42,0A1.42,1.42,0,1,1,1.42,0A1.42,1.42,0,1,1,-1.42,0ZM-1.08,0A1.08,1.08,0,1,0,1.08,0A1.08,1.08,0,1,0,-1.08,0Z","M-1.42,0A1.42,1.42,0,1,1,1.42,0A1.42,1.42,0,1,1,-1.42,0ZM-1.08,0A1.08,1.08,0,1,0,1.08,0A1.08,1.08,0,1,0,-1.08,0Z"]},"legend":{"title":null,"orient":"none","legendX":214,"legendY":2,"symbolSize":85,"symbolFillColor":"#000000","symbolStrokeWidth":0,"symbolOpacity":1,"labelFont":"Liberation Serif","labelFontSize":24,"labelColor":"#111111","labelExpr":"'\u00a0'","labelOffset":9,"rowPadding":9,"padding":0,"zindex":2}}
   }}
  ]},
  {"hconcat":[
   {"data":{"name":"P"},"transform":[{"filter":"datum.p=='B21'"},{"flatten":["x","y"]}],"mark":"point","encoding":{"x":{"field":"x","type":"quantitative","scale":{"domain":[-0.06,1.06],"nice":false,"zero":false},"axis":{"labels":false,"title":null}},"y":{"field":"y","type":"quantitative","scale":{"domain":[-0.04,1.05],"nice":false,"zero":false},"axis":{"title":"y₂","labelPadding":9,"titlePadding":10}},"fill":{"field":"s","type":"nominal","legend":null}}},
   {"data":{"name":"C"},"transform":[{"filter":"datum.p=='B2'"},{"flatten":["x","y"]}],"mark":"line","encoding":{"x":{"field":"x","type":"quantitative","scale":{"domain":[-0.06,1.06],"nice":false,"zero":false},"axis":{"labels":false,"title":null}},"y":{"field":"y","type":"quantitative","scale":{"domain":[-0.04,1.05],"nice":false,"zero":false},"axis":{"labels":false,"title":null}},"stroke":{"field":"s","type":"nominal","scale":{"domain":["Train","Validation"],"range":["#4c72b0","#dd8452"]},"legend":null}}}
  ],"spacing":6},
  {"hconcat":[
   {"data":{"name":"P"},"transform":[{"filter":"datum.p=='B31'"},{"flatten":["x","y"]}],"mark":"point","encoding":{"x":{"field":"x","type":"quantitative","scale":{"domain":[-0.06,1.06],"nice":false,"zero":false},"axis":{"labels":false,"title":null}},"y":{"field":"y","type":"quantitative","scale":{"domain":[-0.04,1.05],"nice":false,"zero":false},"axis":{"title":"y₃","labelPadding":9,"titlePadding":10}},"fill":{"field":"s","type":"nominal","legend":null}}},
   {"data":{"name":"P"},"transform":[{"filter":"datum.p=='B32'"},{"flatten":["x","y"]}],"mark":"point","encoding":{"x":{"field":"x","type":"quantitative","scale":{"domain":[-0.06,1.06],"nice":false,"zero":false},"axis":{"labels":false,"title":null}},"y":{"field":"y","type":"quantitative","scale":{"domain":[-0.04,1.05],"nice":false,"zero":false},"axis":{"labels":false,"title":null}},"fill":{"field":"s","type":"nominal","legend":null}}},
   {"data":{"name":"C"},"transform":[{"filter":"datum.p=='B3'"},{"flatten":["x","y"]}],"mark":"line","encoding":{"x":{"field":"x","type":"quantitative","scale":{"domain":[-0.06,1.06],"nice":false,"zero":false},"axis":{"labels":false,"title":null}},"y":{"field":"y","type":"quantitative","scale":{"domain":[-0.04,1.05],"nice":false,"zero":false},"axis":{"labels":false,"title":null}},"stroke":{"field":"s","type":"nominal","scale":{"domain":["Train","Validation"],"range":["#4c72b0","#dd8452"]},"legend":null}}}
  ],"spacing":6},
  {"hconcat":[
   {"data":{"name":"P"},"transform":[{"filter":"datum.p=='B41'"},{"flatten":["x","y"]}],"mark":"point","encoding":{"x":{"field":"x","type":"quantitative","scale":{"domain":[-0.06,1.06],"nice":false,"zero":false},"axis":{"labels":false,"title":null}},"y":{"field":"y","type":"quantitative","scale":{"domain":[-0.04,1.05],"nice":false,"zero":false},"axis":{"title":"y₄","labelPadding":9,"titlePadding":10}},"fill":{"field":"s","type":"nominal","legend":null}}},
   {"data":{"name":"P"},"transform":[{"filter":"datum.p=='B42'"},{"flatten":["x","y"]}],"mark":"point","encoding":{"x":{"field":"x","type":"quantitative","scale":{"domain":[-0.06,1.06],"nice":false,"zero":false},"axis":{"labels":false,"title":null}},"y":{"field":"y","type":"quantitative","scale":{"domain":[-0.04,1.05],"nice":false,"zero":false},"axis":{"labels":false,"title":null}},"fill":{"field":"s","type":"nominal","legend":null}}},
   {"data":{"name":"P"},"transform":[{"filter":"datum.p=='B43'"},{"flatten":["x","y"]}],"mark":"point","encoding":{"x":{"field":"x","type":"quantitative","scale":{"domain":[-0.06,1.06],"nice":false,"zero":false},"axis":{"labels":false,"title":null}},"y":{"field":"y","type":"quantitative","scale":{"domain":[-0.04,1.05],"nice":false,"zero":false},"axis":{"labels":false,"title":null}},"fill":{"field":"s","type":"nominal","legend":null}}},
   {"data":{"name":"C"},"transform":[{"filter":"datum.p=='B4'"},{"flatten":["x","y"]}],"mark":"line","encoding":{"x":{"field":"x","type":"quantitative","scale":{"domain":[-0.06,1.06],"nice":false,"zero":false},"axis":{"labels":false,"title":null}},"y":{"field":"y","type":"quantitative","scale":{"domain":[-0.04,1.05],"nice":false,"zero":false},"axis":{"labels":false,"title":null}},"stroke":{"field":"s","type":"nominal","scale":{"domain":["Train","Validation"],"range":["#4c72b0","#dd8452"]},"legend":null}}}
  ],"spacing":6},
  {"hconcat":[
   {"data":{"name":"P"},"transform":[{"filter":"datum.p=='B51'"},{"flatten":["x","y"]}],"mark":"point","encoding":{"x":{"field":"x","type":"quantitative","scale":{"domain":[-0.06,1.06],"nice":false,"zero":false},"axis":{"title":"y₁","labelPadding":12,"titlePadding":-10}},"y":{"field":"y","type":"quantitative","scale":{"domain":[-0.04,1.05],"nice":false,"zero":false},"axis":{"title":"y₅","labelPadding":9,"titlePadding":10}},"fill":{"field":"s","type":"nominal","legend":null}}},
   {"data":{"name":"P"},"transform":[{"filter":"datum.p=='B52'"},{"flatten":["x","y"]}],"mark":"point","encoding":{"x":{"field":"x","type":"quantitative","scale":{"domain":[-0.06,1.06],"nice":false,"zero":false},"axis":{"title":"y₂","labelPadding":12,"titlePadding":-10}},"y":{"field":"y","type":"quantitative","scale":{"domain":[-0.04,1.05],"nice":false,"zero":false},"axis":{"labels":false,"title":null}},"fill":{"field":"s","type":"nominal","legend":null}}},
   {"data":{"name":"P"},"transform":[{"filter":"datum.p=='B53'"},{"flatten":["x","y"]}],"mark":"point","encoding":{"x":{"field":"x","type":"quantitative","scale":{"domain":[-0.06,1.06],"nice":false,"zero":false},"axis":{"title":"y₃","labelPadding":12,"titlePadding":-10}},"y":{"field":"y","type":"quantitative","scale":{"domain":[-0.04,1.05],"nice":false,"zero":false},"axis":{"labels":false,"title":null}},"fill":{"field":"s","type":"nominal","legend":null}}},
   {"data":{"name":"P"},"transform":[{"filter":"datum.p=='B54'"},{"flatten":["x","y"]}],"mark":"point","encoding":{"x":{"field":"x","type":"quantitative","scale":{"domain":[-0.06,1.06],"nice":false,"zero":false},"axis":{"title":"y₄","labelPadding":12,"titlePadding":-10}},"y":{"field":"y","type":"quantitative","scale":{"domain":[-0.04,1.05],"nice":false,"zero":false},"axis":{"labels":false,"title":null}},"fill":{"field":"s","type":"nominal","legend":null}}},
   {"data":{"name":"C"},"transform":[{"filter":"datum.p=='B5'"},{"flatten":["x","y"]}],"mark":"line","encoding":{"x":{"field":"x","type":"quantitative","scale":{"domain":[-0.06,1.06],"nice":false,"zero":false},"axis":{"title":"y₅","labelPadding":12,"titlePadding":-10}},"y":{"field":"y","type":"quantitative","scale":{"domain":[-0.04,1.05],"nice":false,"zero":false},"axis":{"labels":false,"title":null}},"stroke":{"field":"s","type":"nominal","scale":{"domain":["Train","Validation"],"range":["#4c72b0","#dd8452"]},"legend":null}}}
  ],"spacing":6,
  "title":{"text":"(b)","orient":"bottom","anchor":"start","dx":88,"offset":16,"font":"Roboto","fontSize":26,"fontWeight":"bold","color":"#111111"}}
 ],
 "spacing":3.25,
 "title":{"text":"KPIs distribution.","orient":"bottom","anchor":"start","dx":122,"dy":-28,"offset":0,"font":"Roboto","fontSize":26,"fontWeight":"normal","color":"#111111"}
 }
],
"spacing":4
}
],
"spacing":267,
"resolve":{"scale":{"color":"independent","shape":"independent"},"legend":{"color":"independent","shape":"independent"}}
}
